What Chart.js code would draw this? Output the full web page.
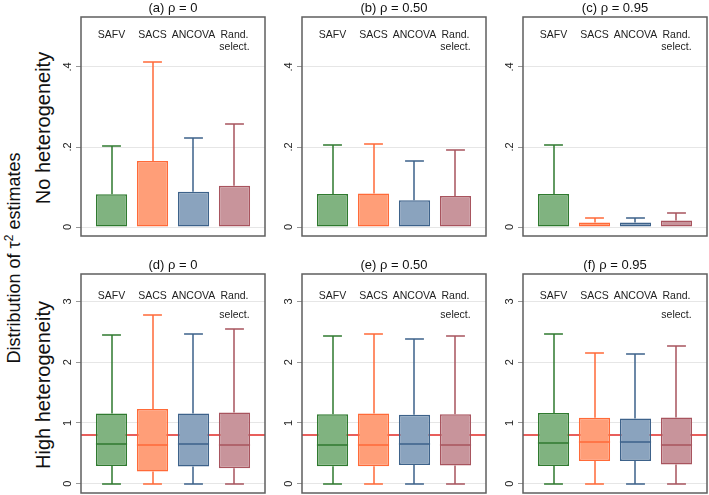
<!DOCTYPE html>
<html>
<head>
<meta charset="utf-8">
<title>Distribution of tau2 estimates</title>
<script src="https://cdn.jsdelivr.net/npm/chart.js"></script>
<style>
    body { margin: 0; background: #fff; font-family: "Liberation Sans", Arial, sans-serif; }
    #wrap { position: relative; width: 709px; height: 495px; overflow: hidden; }
    #wrap canvas { position: absolute; }
    .side { position: absolute; white-space: nowrap; transform: translate(-50%, -50%) rotate(-90deg); color: #111; }
</style>
</head>
<body>
<div id="wrap">
    <div class="side" style="left:13px; top:258px; font-size:18px;">Distribution of τ<sup style="font-size:12px;">2</sup> estimates</div>
    <div class="side" style="left:43px; top:128px; font-size:20px;">No heterogeneity</div>
    <div class="side" style="left:43px; top:385px; font-size:20px;">High heterogeneity</div>
</div>

<script>
    // categories and panel titles
    const methods = ["SAFV", "SACS", "ANCOVA", ["Rand.", "select."]];
    const panelTitles = ["(a) ρ = 0", "(b) ρ = 0.50", "(c) ρ = 0.95", "(d) ρ = 0", "(e) ρ = 0.50", "(f) ρ = 0.95"];

    // y ticks for the two rows
    const topTicks = [0, 0.2, 0.4];
    const topTickLabels = ["0", ".2", ".4"];
    const bottomTicks = [0, 1, 2, 3];
    const bottomTickLabels = ["0", "1", "2", "3"];

    // true tau^2 in the high heterogeneity row
    const trueTau2 = 0.8;

    // box plot statistics, one row per panel (a)..(f), one value per method
    const whiskerLow = [
        [0, 0, 0, 0], [0, 0, 0, 0], [0, 0, 0, 0],
        [0, 0, 0, 0], [0, 0, 0, 0], [0, 0, 0, 0]
    ];
    const q1 = [
        [0, 0, 0, 0], [0, 0, 0, 0], [0, 0, 0, 0],
        [0.29, 0.198, 0.28, 0.252], [0.285, 0.285, 0.307, 0.297], [0.29, 0.373, 0.373, 0.313]
    ];
    const median = [
        [0, 0, 0, 0], [0, 0, 0, 0], [0, 0, 0, 0],
        [0.653, 0.632, 0.653, 0.637], [0.643, 0.643, 0.653, 0.643], [0.66, 0.677, 0.677, 0.627]
    ];
    const q3 = [
        [0.082, 0.165, 0.088, 0.103], [0.0825, 0.084, 0.067, 0.0775], [0.0825, 0.011, 0.011, 0.016],
        [1.155, 1.226, 1.155, 1.17], [1.143, 1.155, 1.132, 1.143], [1.16, 1.083, 1.072, 1.089]
    ];
    const whiskerHigh = [
        [0.203, 0.412, 0.222, 0.2575], [0.205, 0.207, 0.166, 0.1925], [0.205, 0.022, 0.022, 0.036],
        [2.447, 2.777, 2.469, 2.54], [2.43, 2.458, 2.376, 2.43], [2.464, 2.145, 2.14, 2.266]
    ];

    const fills = ["#80b380", "#ff9e78", "#8aa3be", "#c8949b"];
    const lines = ["#2f7a2f", "#ff6a38", "#3d628a", "#a8545e"];

    // frame (plot region) geometry
    const frameLeft = [81, 302, 523];
    const frameTop = [17, 274];
    const frameW = 184, frameH = 219;

    const boxPlugin = {
        id: "boxExtras",
        beforeDatasetsDraw(chart, args, opts) {
            if (opts.refValue == null) return;
            const { ctx, chartArea: a, scales: { y } } = chart;
            const py = Math.round(y.getPixelForValue(opts.refValue));
            ctx.save();
            ctx.strokeStyle = "#e02a26";
            ctx.lineWidth = 1.5;
            ctx.beginPath();
            ctx.moveTo(a.left, py);
            ctx.lineTo(a.right, py);
            ctx.stroke();
            ctx.restore();
        },
        afterDatasetsDraw(chart, args, opts) {
            const { ctx, scales: { x, y } } = chart;
            const p = opts.panel;
            const bars = chart.getDatasetMeta(0).data;
            ctx.save();
            ctx.lineWidth = 1.5;
            methods.forEach((m, i) => {
                const cx = Math.round(x.getPixelForValue(i));
                const capL = x.getPixelForValue(i - 0.23);
                const capR = x.getPixelForValue(i + 0.23);
                ctx.strokeStyle = lines[i];
                ctx.beginPath();
                // upper whisker and cap
                ctx.moveTo(cx, y.getPixelForValue(q3[p][i]));
                ctx.lineTo(cx, y.getPixelForValue(whiskerHigh[p][i]));
                ctx.moveTo(capL, Math.round(y.getPixelForValue(whiskerHigh[p][i])));
                ctx.lineTo(capR, Math.round(y.getPixelForValue(whiskerHigh[p][i])));
                // lower whisker and cap
                if (q1[p][i] > whiskerLow[p][i]) {
                    ctx.moveTo(cx, y.getPixelForValue(q1[p][i]));
                    ctx.lineTo(cx, y.getPixelForValue(whiskerLow[p][i]));
                    ctx.moveTo(capL, Math.round(y.getPixelForValue(whiskerLow[p][i])));
                    ctx.lineTo(capR, Math.round(y.getPixelForValue(whiskerLow[p][i])));
                }
                // median
                if (median[p][i] > q1[p][i]) {
                    const b = bars[i];
                    ctx.moveTo(b.x - b.width / 2, Math.round(y.getPixelForValue(median[p][i])));
                    ctx.lineTo(b.x + b.width / 2, Math.round(y.getPixelForValue(median[p][i])));
                }
                ctx.stroke();
            });
            ctx.restore();
        },
        afterDraw(chart, args, opts) {
            const { ctx, chartArea: a, scales: { x, y } } = chart;
            ctx.save();
            // frame
            ctx.strokeStyle = "#5f5f5f";
            ctx.lineWidth = 1.5;
            ctx.strokeRect(a.left, a.top, a.right - a.left, a.bottom - a.top);

            // rotated y tick labels
            ctx.fillStyle = "#222";
            ctx.font = "11px 'Liberation Sans', Arial, sans-serif";
            ctx.textAlign = "center";
            ctx.textBaseline = "middle";
            opts.ticks.forEach((v, k) => {
                ctx.save();
                ctx.translate(a.left - 13, y.getPixelForValue(v));
                ctx.rotate(-Math.PI / 2);
                ctx.fillText(opts.tickLabels[k], 0, 0);
                ctx.restore();
            });

            // method labels inside the top of the plot region
            ctx.font = "10.5px 'Liberation Sans', Arial, sans-serif";
            methods.forEach((m, i) => {
                const cx = x.getPixelForValue(i);
                const parts = Array.isArray(m) ? m : [m];
                parts.forEach((t, j) => {
                    ctx.fillText(t, cx, y.getPixelForValue(opts.labelY[j]));
                });
            });

            // panel title
            ctx.fillStyle = "#111";
            ctx.font = "13px 'Liberation Sans', Arial, sans-serif";
            ctx.fillText(opts.title, (a.left + a.right) / 2, a.top - 9);
            ctx.restore();
        }
    };

    const wrap = document.getElementById("wrap");

    panelTitles.forEach((title, p) => {
        const row = p < 3 ? 0 : 1;
        const col = p % 3;
        const canvas = document.createElement("canvas");
        canvas.width = frameW + 44;
        canvas.height = frameH + 26;
        canvas.style.left = (frameLeft[col] - 40) + "px";
        canvas.style.top = (frameTop[row] - 22) + "px";
        wrap.appendChild(canvas);

        const ticks = row === 0 ? topTicks : bottomTicks;

        new Chart(canvas.getContext("2d"), {
            type: "bar",
            data: {
                datasets: [{
                    data: methods.map((m, i) => ({ x: i, y: [q1[p][i], q3[p][i]] })),
                    backgroundColor: fills,
                    borderColor: lines,
                    borderWidth: 1.5,
                    borderSkipped: false,
                    categoryPercentage: 1,
                    barPercentage: 0.76
                }]
            },
            options: {
                responsive: false,
                animation: false,
                layout: { padding: { left: 35, top: 22, right: 4, bottom: 4 } },
                scales: {
                    x: { type: "linear", min: -0.744, max: 3.744, offset: false, display: false },
                    y: {
                        min: row === 0 ? -0.0225 : -0.155,
                        max: row === 0 ? 0.525 : 3.45,
                        afterBuildTicks: (s) => { s.ticks = ticks.map(v => ({ value: v })); },
                        ticks: { display: false },
                        border: { display: false },
                        grid: { color: "#e6e6e6", lineWidth: 1, tickColor: "#999", tickLength: 5 }
                    }
                },
                plugins: {
                    legend: { display: false },
                    tooltip: { enabled: false },
                    boxExtras: {
                        panel: p,
                        title: title,
                        ticks: ticks,
                        tickLabels: row === 0 ? topTickLabels : bottomTickLabels,
                        labelY: row === 0 ? [0.479, 0.449] : [3.09, 2.78],
                        refValue: row === 0 ? null : trueTau2
                    }
                }
            },
            plugins: [boxPlugin]
        });
    });
</script>
</body>
</html>
